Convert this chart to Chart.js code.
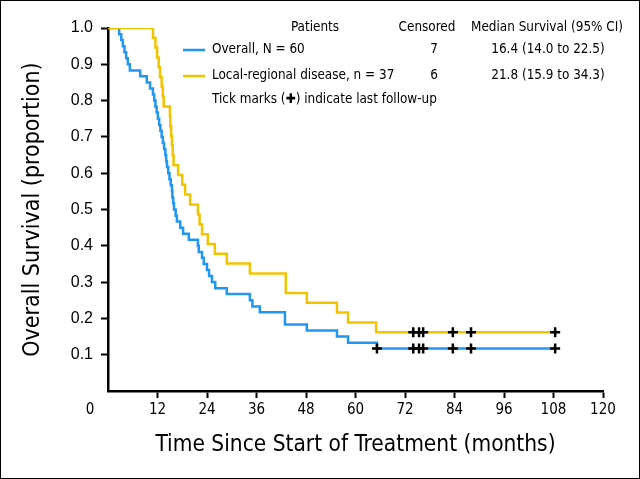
<!DOCTYPE html>
<html>
<head>
<meta charset="utf-8">
<script src="https://cdn.jsdelivr.net/npm/chart.js@4.4.1/dist/chart.umd.min.js"></script>
<style>
  html, body { margin: 0; padding: 0; background: #fff; }
  #wrap { width: 640px; height: 479px; border: 1px solid #000; box-sizing: border-box; }
  canvas { display: block; }
</style>
</head>
<body>
<div id="wrap"><canvas id="km" width="638" height="477"></canvas></div>
<script>
// Kaplan-Meier steps (months, proportion surviving)
var overallTime = [0, 2.7, 3.2, 3.6, 4.0, 4.4, 4.8, 5.3, 7.8, 9.4, 10.2, 10.9,
  11.2, 11.5, 11.8, 12.1, 12.4, 12.7, 13.0, 13.3, 13.6, 13.9, 14.1, 14.3,
  14.6, 14.9, 15.2, 15.5, 15.6, 15.8, 16.0, 16.4, 16.7,
  17.5, 18.2, 19.6, 21.8, 22.0, 22.8, 23.2, 24.0, 24.5, 25.2, 26.0,
  28.8, 34.4, 35.0, 36.8, 42.9, 48.2, 55.5, 58.2, 65.2];
var overallSurv = [1.0, 0.983, 0.967, 0.95, 0.933, 0.917, 0.9, 0.883, 0.867, 0.85, 0.833, 0.817,
  0.8, 0.783, 0.767, 0.75, 0.733, 0.717, 0.7, 0.683, 0.667, 0.65, 0.633, 0.617,
  0.6, 0.583, 0.567, 0.55, 0.533, 0.517, 0.5, 0.483, 0.467,
  0.45, 0.433, 0.417, 0.4, 0.383, 0.367, 0.35, 0.333, 0.317, 0.3, 0.283,
  0.267, 0.25, 0.233, 0.217, 0.183, 0.167, 0.15, 0.133, 0.117];
var overallCensor = [65.2, 74.0, 75.4, 76.4, 83.6, 88.0, 108.4];

var localTime = [0, 10.9, 11.5, 11.9, 12.3, 12.6, 13.0, 13.3, 13.5, 15.0, 15.1, 15.3,
  15.5, 15.7, 15.9, 17.0, 18.0, 18.7, 19.9, 21.8, 22.2, 22.8, 24.2, 25.9,
  28.8, 34.4, 43.1, 48.2, 55.5, 58.2, 65.0];
var localSurv = [1.0, 0.973, 0.946, 0.919, 0.892, 0.865, 0.838, 0.811, 0.784, 0.757, 0.730, 0.703,
  0.676, 0.649, 0.622, 0.595, 0.568, 0.541, 0.514, 0.486, 0.459, 0.432, 0.405, 0.378,
  0.351, 0.324, 0.270, 0.243, 0.216, 0.189, 0.162];
var localCensor = [74.0, 75.4, 76.4, 83.6, 88.0, 108.4];

var xTicks = [0, 12, 24, 36, 48, 60, 72, 84, 96, 108, 120];
var yTicks = [0.1, 0.2, 0.3, 0.4, 0.5, 0.6, 0.7, 0.8, 0.9, 1.0];

var seriesNames = ["Overall, N = 60", "Local-regional disease, n = 37"];
var censoredCounts = ["7", "6"];
var medianLabels = ["16.4 (14.0 to 22.5)", "21.8 (15.9 to 34.3)"];

var BLUE = "#2196F3";
var GOLD = "#F2C400";
var COND = '"DejaVu Sans Condensed", "Liberation Sans Narrow", "Roboto Condensed", sans-serif';

function curve(times, surv, censor) {
  var pts = times.map(function (t, i) { return { x: t, y: surv[i] }; });
  var last = censor[censor.length - 1];
  pts.push({ x: last, y: surv[surv.length - 1] });
  return pts;
}
function marks(censor, surv) {
  var s = surv[surv.length - 1];
  return censor.map(function (t) { return { x: t, y: s }; });
}

var legendPlugin = {
  id: "kmLegend",
  afterDraw: function (chart) {
    var ctx = chart.ctx;
    var x0 = chart.scales.x;
    ctx.save();
    ctx.fillStyle = "#000";
    ctx.textBaseline = "middle";
    // stray "0" label sits left of the axis corner
    ctx.font = "15px " + COND;
    ctx.textAlign = "center";
    ctx.fillText("0", x0.getPixelForValue(0) - 18, 409);

    ctx.font = "13.4px " + COND;
    ctx.fillText("Patients", 314, 27);
    ctx.fillText("Censored", 426, 27);
    ctx.fillText("Median Survival (95% CI)", 546, 27);
    var rows = [49, 75];
    var cols = [BLUE, GOLD];
    for (var i = 0; i < 2; i++) {
      ctx.strokeStyle = cols[i];
      ctx.lineWidth = 2.5;
      ctx.beginPath();
      ctx.moveTo(182, rows[i]);
      ctx.lineTo(204, rows[i]);
      ctx.stroke();
      ctx.textAlign = "left";
      ctx.fillText(seriesNames[i], 211, rows[i]);
      ctx.textAlign = "center";
      ctx.fillText(censoredCounts[i], 433, rows[i]);
      ctx.fillText(medianLabels[i], 547, rows[i]);
    }
    ctx.textAlign = "left";
    ctx.fillText("Tick marks (\u271A) indicate last follow-up", 211, 99);
    ctx.restore();
  }
};

var noZeroTick = function (c) { return c.tick && c.tick.value === 0 ? "rgba(0,0,0,0)" : "#000"; };

new Chart(document.getElementById("km").getContext("2d"), {
  type: "line",
  data: {
    datasets: [
      {
        type: "scatter",
        data: marks(overallCensor, overallSurv).concat(marks(localCensor, localSurv)),
        pointStyle: "cross",
        pointRadius: 5,
        borderColor: "#000",
        borderWidth: 2.5,
        order: 0
      },
      {
        label: seriesNames[1],
        data: curve(localTime, localSurv, localCensor),
        borderColor: GOLD,
        borderWidth: 2.5,
        stepped: true,
        pointRadius: 0,
        fill: false,
        order: 1
      },
      {
        label: seriesNames[0],
        data: curve(overallTime, overallSurv, overallCensor),
        borderColor: BLUE,
        borderWidth: 2.5,
        stepped: true,
        pointRadius: 0,
        fill: false,
        order: 2
      }
    ]
  },
  options: {
    responsive: false,
    animation: false,
    devicePixelRatio: 1,
    layout: { padding: { top: 27, right: 36, left: 0, bottom: 0 } },
    plugins: { legend: { display: false }, tooltip: { enabled: false } },
    scales: {
      x: {
        type: "linear",
        min: 0,
        max: 120,
        afterBuildTicks: function (s) { s.ticks = xTicks.map(function (v) { return { value: v }; }); },
        afterFit: function (s) { s.height = 87; },
        ticks: {
          padding: 3,
          color: "#000",
          font: { family: COND, size: 15 },
          maxRotation: 0,
          callback: function (v) { return v === 0 ? "" : String(v); }
        },
        grid: { drawOnChartArea: false, drawTicks: true, tickLength: 7, tickWidth: 2, tickColor: noZeroTick },
        border: { display: true, color: "#000", width: 2.5 },
        title: {
          display: true,
          text: "Time Since Start of Treatment (months)",
          color: "#000",
          font: { family: COND, size: 22.5 },
          padding: { top: 0, bottom: 19 }
        }
      },
      y: {
        type: "linear",
        min: 0,
        max: 1,
        afterBuildTicks: function (s) { s.ticks = yTicks.map(function (v) { return { value: v }; }); },
        afterFit: function (s) { s.width = 107; },
        ticks: {
          padding: 8,
          color: "#000",
          font: { family: '"Liberation Sans", Arial, sans-serif', size: 16 },
          callback: function (v) { return v.toFixed(1); }
        },
        grid: { drawOnChartArea: false, drawTicks: true, tickLength: 7, tickWidth: 2, tickColor: "#000" },
        border: { display: true, color: "#000", width: 2.5 },
        title: {
          display: true,
          text: "Overall Survival (proportion)",
          color: "#000",
          font: { family: COND, size: 23 },
          padding: { top: 18, bottom: 0 }
        }
      }
    }
  },
  plugins: [legendPlugin]
});
</script>
</body>
</html>
